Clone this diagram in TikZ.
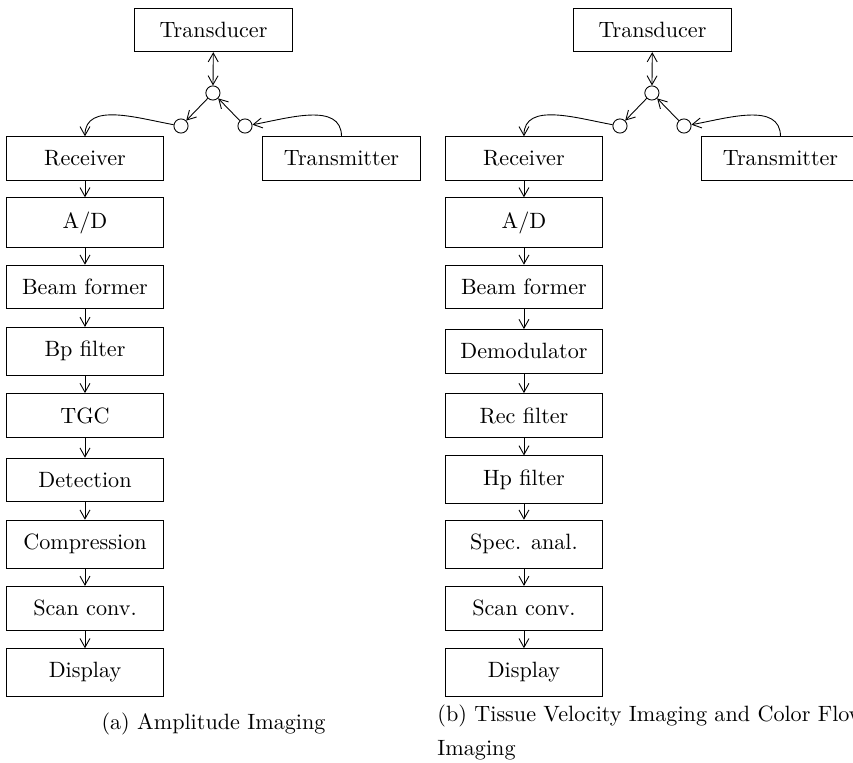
\documentclass[tikz,border=0pt]{standalone}
\usepackage{tikz}
\usetikzlibrary{shapes,arrows.meta,positioning}

\begin{document}
\begin{tikzpicture}[node distance=1.02cm, >={Straight Barb[length=4pt,width=4.5pt]}]
    % Define styles
    \tikzstyle{block} = [rectangle, minimum width=2.5cm, inner xsep=4pt, inner ysep=6.3pt, text centered, draw=black]
    \tikzstyle{junction} = [circle, minimum size=6.4pt, inner sep=0pt, draw=black]

    \useasboundingbox (0,0) rectangle (13.54,-12.111);

    % (a) Amplitude imaging
    \node[block] (a_trans) at (3.389,-0.476) {Transducer};
    \node[junction] (a_split) at (3.38,-1.476) {};
    \node[junction] (a_rx) at (2.873,-2.0) {};
    \node[junction] (a_tx) at (3.889,-2.0) {};
    \node[block] (a_receiver) at (1.349,-2.516) {Receiver};
    \node[block] (a_transmitter) at (5.421,-2.516) {Transmitter};
    \node[block, below of=a_receiver] (a_ad) {A/D};
    \node[block, below of=a_ad] (a_beam) {Beam former};
    \node[block, below of=a_beam] (a_bp) {Bp filter};
    \node[block, below of=a_bp] (a_tgc) {TGC};
    \node[block, below of=a_tgc] (a_detect) {Detection};
    \node[block, below of=a_detect] (a_compress) {Compression};
    \node[block, below of=a_compress] (a_scan) {Scan conv.};
    \node[block, below of=a_scan] (a_display) {Display};
    \node[anchor=base] (a_caption) at (3.389,-11.579) {(a) Amplitude Imaging};

    % (b) Tissue velocity / color flow imaging
    \node[block] (b_trans) at (10.357,-0.476) {Transducer};
    \node[junction] (b_split) at (10.348,-1.476) {};
    \node[junction] (b_rx) at (9.841,-2.0) {};
    \node[junction] (b_tx) at (10.857,-2.0) {};
    \node[block] (b_receiver) at (8.317,-2.516) {Receiver};
    \node[block] (b_transmitter) at (12.389,-2.516) {Transmitter};
    \node[block, below of=b_receiver] (b_ad) {A/D};
    \node[block, below of=b_ad] (b_beam) {Beam former};
    \node[block, below of=b_beam] (b_demod) {Demodulator};
    \node[block, below of=b_demod] (b_rec) {Rec filter};
    \node[block, below of=b_rec] (b_hp) {Hp filter};
    \node[block, below of=b_hp] (b_spec) {Spec. anal.};
    \node[block, below of=b_spec] (b_scan) {Scan conv.};
    \node[block, below of=b_scan] (b_display) {Display};
    \node[anchor=north west, align=left, inner sep=0pt] (b_caption) at (6.937,-11.189) {(b) Tissue Velocity Imaging and Color Flow\\[3.1pt]Imaging};

    % Connections (a)
    \draw[<->] (a_trans) -- (a_split);
    \draw[->] (a_split) -- (a_rx);
    \draw[->] (a_tx) -- (a_split);
    \draw[->] (a_rx) to[out=170, in=90] (a_receiver);
    \draw[->] (a_transmitter) to[out=90, in=10] (a_tx);
    \draw[->] (a_receiver) -- (a_ad);
    \draw[->] (a_ad) -- (a_beam);
    \draw[->] (a_beam) -- (a_bp);
    \draw[->] (a_bp) -- (a_tgc);
    \draw[->] (a_tgc) -- (a_detect);
    \draw[->] (a_detect) -- (a_compress);
    \draw[->] (a_compress) -- (a_scan);
    \draw[->] (a_scan) -- (a_display);

    % Connections (b)
    \draw[<->] (b_trans) -- (b_split);
    \draw[->] (b_split) -- (b_rx);
    \draw[->] (b_tx) -- (b_split);
    \draw[->] (b_rx) to[out=170, in=90] (b_receiver);
    \draw[->] (b_transmitter) to[out=90, in=10] (b_tx);
    \draw[->] (b_receiver) -- (b_ad);
    \draw[->] (b_ad) -- (b_beam);
    \draw[->] (b_beam) -- (b_demod);
    \draw[->] (b_demod) -- (b_rec);
    \draw[->] (b_rec) -- (b_hp);
    \draw[->] (b_hp) -- (b_spec);
    \draw[->] (b_spec) -- (b_scan);
    \draw[->] (b_scan) -- (b_display);
\end{tikzpicture}
\end{document}
